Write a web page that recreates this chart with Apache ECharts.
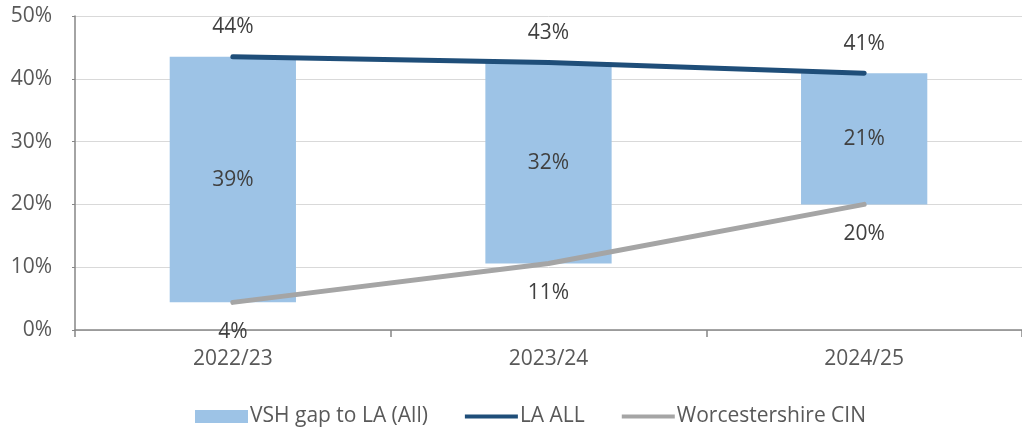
<!DOCTYPE html>
<html><head><meta charset="utf-8">
<script src="https://cdn.jsdelivr.net/npm/echarts@6/dist/echarts.min.js"></script>
<style>html,body{margin:0;padding:0;background:#fff}#c{width:1022px;height:430px}</style>
</head><body><div id="c"></div>
<script>
const categories = ['2022/23', '2023/24', '2024/25'];
const laAll = [43.5, 42.6, 40.9];
const worcsCIN = [4.4, 10.6, 20.0];
const yTicks = [0, 10, 20, 30, 40, 50];

const gap = laAll.map((v, i) => +(v - worcsCIN[i]).toFixed(1));
const FONT = 'Open Sans';
const TXT = '#595959';
const LBL = '#404040';
const FS = 21;
const lineIcon = 'path://M0,0 L0,0 M0,4.5 L53,4.5 L53,8.5 L0,8.5 Z M53,13 L53,13';

const chart = echarts.init(document.getElementById('c'));
chart.setOption({
  animation: false,
  textStyle: { fontFamily: FONT },
  grid: { left: 75, width: 957, top: 16, bottom: 100, containLabel: false },
  xAxis: {
    type: 'category', data: categories, boundaryGap: true,
    axisLine: { lineStyle: { color: '#868686', width: 1.5 } },
    axisTick: { show: true, length: 7, lineStyle: { color: '#868686', width: 1.5 } },
    axisLabel: { color: TXT, fontSize: FS, margin: 19, fontFamily: FONT }
  },
  yAxis: {
    type: 'value', min: yTicks[0], max: yTicks[yTicks.length - 1], interval: 10,
    axisLine: { show: true, lineStyle: { color: '#868686', width: 1.5 } },
    axisTick: { show: true, length: 3, lineStyle: { color: '#868686' } },
    splitLine: { lineStyle: { color: '#D9D9D9', width: 1 } },
    axisLabel: { color: TXT, fontSize: FS, margin: 23, formatter: v => v + '%', fontFamily: FONT }
  },
  legend: {
    top: 401, left: 190, itemWidth: 53, itemHeight: 13, itemGap: 37,
    textStyle: { color: TXT, fontSize: FS, fontFamily: FONT, padding: [0, 0, 0, -3] },
    data: [
      { name: 'VSH gap to LA (All)', icon: 'rect' },
      { name: 'LA ALL', icon: lineIcon },
      { name: 'Worcestershire CIN', icon: lineIcon }
    ]
  },
  series: [
    {
      name: 'base', type: 'bar', stack: 'g', data: worcsCIN, barWidth: '40%',
      itemStyle: { color: 'transparent' }, silent: true, legendHoverLink: false
    },
    {
      name: 'VSH gap to LA (All)', type: 'bar', stack: 'g', data: gap, barWidth: '40%',
      itemStyle: { color: '#9DC3E6' },
      label: { show: true, position: 'inside', color: LBL, fontSize: FS, fontFamily: FONT,
        formatter: p => Math.round(p.value) + '%' }
    },
    {
      name: 'LA ALL', type: 'line', data: laAll, showSymbol: true, symbol: 'circle', symbolSize: 0,
      lineStyle: { color: '#1F4E79', width: 5, cap: 'round' }, itemStyle: { color: '#1F4E79' },
      label: { show: true, position: 'top', distance: 19, color: LBL, fontSize: FS, fontFamily: FONT,
        formatter: p => Math.round(p.value) + '%' }
    },
    {
      name: 'Worcestershire CIN', type: 'line', data: worcsCIN, showSymbol: true, symbol: 'circle', symbolSize: 0,
      lineStyle: { color: '#A5A5A5', width: 5, cap: 'round' }, itemStyle: { color: '#A5A5A5' },
      label: { show: true, position: 'bottom', distance: 19, color: LBL, fontSize: FS, fontFamily: FONT,
        formatter: p => Math.round(p.value) + '%' }
    }
  ]
});
</script></body></html>
